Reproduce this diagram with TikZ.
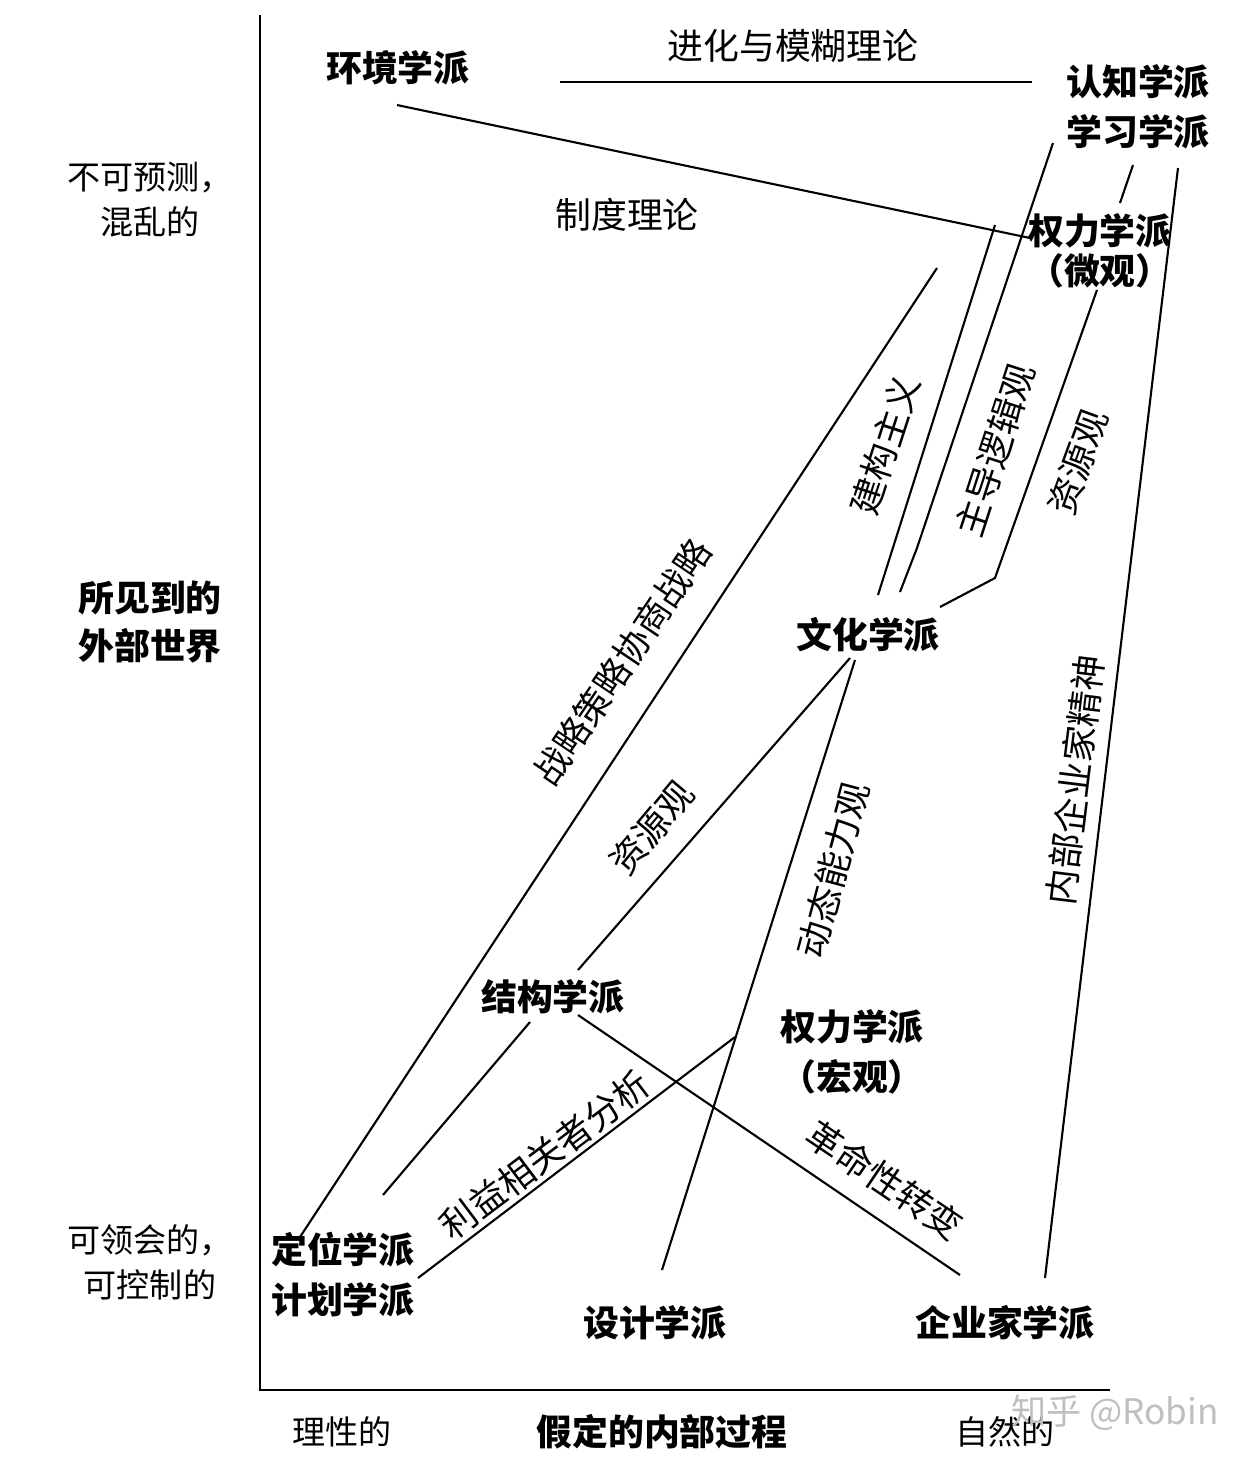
\documentclass[tikz,border=0pt]{standalone}
\usepackage{fontspec}
\newfontfamily\cjk{Noto Sans CJK SC}
\tikzset{
  school/.style={font=\cjk\bfseries\fontsize{10.2}{14.2}\selectfont, align=center, inner sep=0pt},
  theory/.style={font=\cjk\fontsize{10.2}{13}\selectfont, inner sep=0pt},
  side/.style={font=\cjk\fontsize{9.4}{12.8}\selectfont, align=center, inner sep=0pt},
  link/.style={line width=0.6pt},
}

\begin{document}
\begin{tikzpicture}[x=0.01cm, y=-0.01cm]

  \useasboundingbox (0,0) rectangle (1258,1462);

  % axes
  \coordinate (o)  at (260,1390);
  \coordinate (yt) at (260,  15);
  \coordinate (xr) at (1110,1390);
  \draw[line width=0.8pt] (yt) -- (o) -- (xr);

  % schools
  \node[school] (env)   at (398,  68) {环境学派};
  \node[school] (cog)   at (1138,107) {认知学派\\学习学派};
  \node[school] (pmic)  at (1100,251) {权力学派\\[-2.8pt]（微观）};
  \node[school] (cult)  at (868, 635) {文化学派};
  \node[school] (struc) at (553, 997) {结构学派};
  \node[school] (pmac)  at (852,1052) {权力学派\\（宏观）};
  \node[school] (plan)  at (343,1275) {定位学派\\计划学派};
  \node[school] (desg)  at (655,1323) {设计学派};
  \node[school] (entr)  at (1005,1323) {企业家学派};

  % side labels
  \node[side] (unpr) at (150, 200) {不可预测，\\混乱的};
  \node[side, font=\cjk\bfseries\fontsize{10.2}{13.6}\selectfont] (world) at (150, 622) {所见到的\\外部世界};
  \node[side] (ctrl) at (150,1262) {可领会的，\\可控制的};
  \node[side] (rat)  at (342,1432) {理性的};
  \node[side, font=\cjk\bfseries\fontsize{10.2}{13}\selectfont] (proc) at (662,1432) {假定的内部过程};
  \node[side] (nat)  at (1005,1432) {自然的};

  % line end points
  \coordinate (a1) at (560,  82);
  \coordinate (a2) at (1032, 82);

  \coordinate (b1) at (397, 105);
  \coordinate (b2) at (1030,238);

  \coordinate (c1) at (1133,165);
  \coordinate (c2) at (1120,203);

  \coordinate (d1) at (1178,168);
  \coordinate (d2) at (1045,1278);

  \coordinate (e1) at (1053,143);
  \coordinate (e2) at (917, 548);
  \coordinate (e3) at (900, 592);

  \coordinate (f1) at (995, 225);
  \coordinate (f2) at (878, 595);

  \coordinate (g1) at (1097,290);
  \coordinate (g2) at (995, 578);
  \coordinate (g3) at (940, 607);

  \coordinate (h1) at (937, 268);
  \coordinate (h2) at (300,1237);

  \coordinate (i1) at (850, 658);
  \coordinate (i2) at (578, 970);

  \coordinate (j1) at (855, 660);
  \coordinate (j2) at (662,1270);

  \coordinate (k1) at (530,1022);
  \coordinate (k2) at (383,1195);

  \coordinate (l1) at (418,1278);
  \coordinate (l2) at (735,1037);

  \coordinate (m1) at (578,1015);
  \coordinate (m2) at (960,1275);

  \draw[link] (a1) -- (a2);
  \draw[link] (b1) -- (b2);
  \draw[link] (c1) -- (c2);
  \draw[link] (d1) -- (d2);
  \draw[link] (e1) -- (e2) -- (e3);
  \draw[link] (f1) -- (f2);
  \draw[link] (g1) -- (g2) -- (g3);
  \draw[link] (h1) -- (h2);
  \draw[link] (i1) -- (i2);
  \draw[link] (j1) -- (j2);
  \draw[link] (k1) -- (k2);
  \draw[link] (l1) -- (l2);
  \draw[link] (m1) -- (m2);

  % theories along the lines
  \node[theory] (evo)  at (793,  46) {进化与模糊理论};
  \node[theory] (inst) at (627, 215) {制度理论};
  \node[theory, rotate=72] (cons) at (885, 445) {建构主义};
  \node[theory, rotate=72] (logi) at (995, 450) {主导逻辑观};
  \node[theory, rotate=70] (rbv1) at (1078,462) {资源观};
  \node[theory, rotate=83] (intr) at (1075,780) {内部企业家精神};
  \node[theory, rotate=56] (nego) at (622, 662) {战略策略协商战略};
  \node[theory, rotate=50] (rbv2) at (652, 828) {资源观};
  \node[theory, rotate=75] (dyn)  at (833, 870) {动态能力观};
  \node[theory, rotate=37] (stak) at (545,1155) {利益相关者分析};
  \node[theory, rotate=-34] (rev) at (885,1180) {革命性转变};

  % watermark
  \node[font=\cjk\fontsize{10}{12}\selectfont, text=black!25, inner sep=0pt] (wm) at (1115,1413) {知乎 @Robin};

\end{tikzpicture}
\end{document}
